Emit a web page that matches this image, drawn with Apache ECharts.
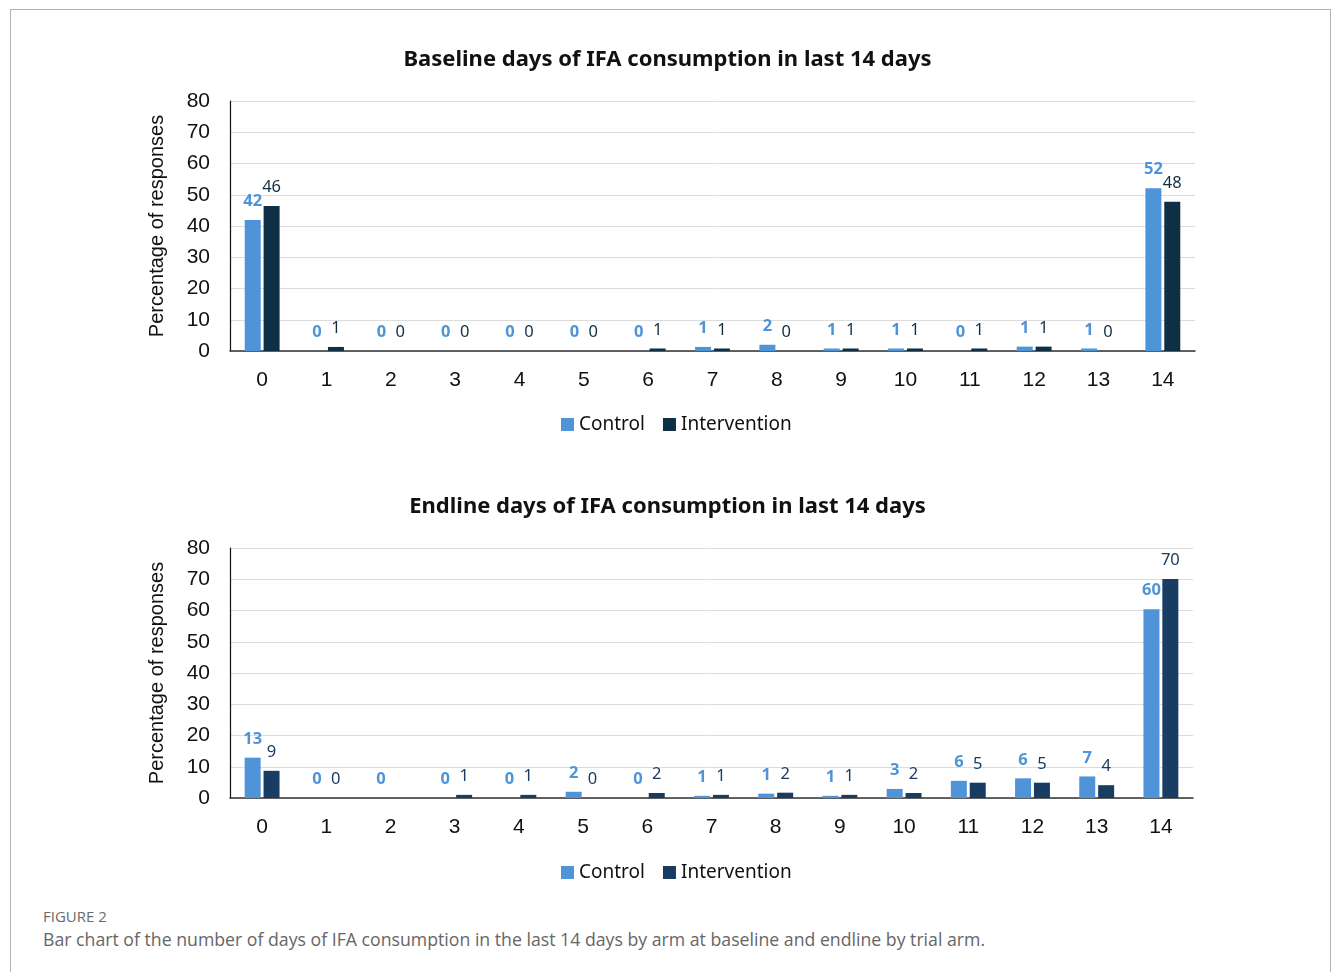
<!DOCTYPE html>
<html>
<head>
<meta charset="utf-8">
<script src="https://cdn.jsdelivr.net/npm/echarts@6/dist/echarts.min.js"></script>
<style>
  html, body { margin: 0; padding: 0; background: #fff; }
  #frame { position: absolute; left: 10px; top: 9px; width: 1321px; height: 1000px; border: 1.5px solid #b3b3b3; box-sizing: border-box; }
  #chart { position: absolute; left: 0; top: 0; width: 1335px; height: 900px; }
  #figlabel { position: absolute; left: 43px; top: 906px; font-family: "Open Sans", sans-serif; font-size: 15px; color: #6b6b6b; }
  #caption { position: absolute; left: 43px; top: 927px; font-family: "Open Sans", sans-serif; font-size: 17.7px; color: #666; }
</style>
</head>
<body>
<div id="frame"></div>
<div id="chart"></div>
<div id="figlabel">FIGURE 2</div>
<div id="caption">Bar chart of the number of days of IFA consumption in the last 14 days by arm at baseline and endline by trial arm.</div>
<script>
const categories = ['0','1','2','3','4','5','6','7','8','9','10','11','12','13','14'];
const yTicks = [0, 10, 20, 30, 40, 50, 60, 70, 80];
const seriesNames = ['Control', 'Intervention'];
const titleBaseline = 'Baseline days of IFA consumption in last 14 days';
const titleEndline = 'Endline days of IFA consumption in last 14 days';
const yAxisName = 'Percentage of responses';

const baselineControl      = [41.9, 0, 0, 0, 0, 0, 0, 1.3, 2.0, 0.8, 0.8, 0, 1.4, 0.8, 52.1];
const baselineIntervention = [46.4, 1.3, 0, 0, 0, 0, 0.8, 0.8, 0, 0.8, 0.8, 0.8, 1.4, 0, 47.8];
const endlineControl       = [12.9, 0, 0, 0, 0, 2.0, 0, 0.7, 1.4, 0.7, 2.9, 5.5, 6.3, 6.9, 60.4];
const endlineIntervention  = [8.7, 0, null, 1.0, 1.0, 0, 1.6, 1.0, 1.7, 1.0, 1.6, 4.9, 4.9, 4.1, 70.1];

const cControl = '#4f94d8';
const cIntTop = '#0f2f45';
const cIntBot = '#183c62';
const fontAx = '"Liberation Sans", Arial, sans-serif';
const fontLbl = '"Noto Sans", "Open Sans", sans-serif';

function yAxisFor(gi) {
  return {
    type: 'value', gridIndex: gi, min: yTicks[0], max: yTicks[yTicks.length - 1], interval: yTicks[1] - yTicks[0],
    name: yAxisName, nameLocation: 'middle', nameGap: 63, nameRotate: 90,
    nameTextStyle: { fontFamily: fontAx, fontSize: 20, color: '#111' },
    axisLine: { show: true, lineStyle: { color: '#111', width: 1.2 } },
    axisTick: { show: false },
    axisLabel: { fontFamily: fontAx, fontSize: 21, color: '#111', margin: 20 },
    splitLine: { show: true, lineStyle: { color: '#dcdcdc', width: 1 } }
  };
}
function xAxisFor(gi) {
  return {
    type: 'category', gridIndex: gi, data: categories,
    axisLine: { show: true, lineStyle: { color: '#333', width: 1.5 } },
    axisTick: { show: false },
    axisLabel: { fontFamily: fontAx, fontSize: 21, color: '#111', margin: 19 }
  };
}
function barSeries(name, data, gi, color, bold) {
  return {
    type: 'bar', name: name, xAxisIndex: gi, yAxisIndex: gi, data: data,
    barWidth: 16, barGap: '18%',
    itemStyle: { color: color },
    label: {
      show: true, position: 'top', distance: 10,
      fontFamily: fontLbl, fontSize: 16.5, fontWeight: bold ? 'bold' : 'normal',
      color: bold ? cControl : (gi === 0 ? cIntTop : cIntBot),
      formatter: p => (p.value === null || p.value === undefined) ? '' : String(Math.round(p.value))
    },
    emphasis: { disabled: true }
  };
}

const chart = echarts.init(document.getElementById('chart'), null, { renderer: 'canvas' });
chart.setOption({
  animation: false,
  title: [
    { text: titleBaseline, left: 'center', top: 44, textStyle: { fontFamily: fontLbl, fontSize: 22, fontWeight: 'bold', color: '#111' } },
    { text: titleEndline, left: 'center', top: 491, textStyle: { fontFamily: fontLbl, fontSize: 22, fontWeight: 'bold', color: '#111' } }
  ],
  legend: [
    { top: 410, left: 556, itemWidth: 13, itemHeight: 13, itemGap: 18, icon: 'rect',
      textStyle: { fontFamily: fontLbl, fontSize: 19, color: '#111' },
      data: [{ name: seriesNames[0], itemStyle: { color: cControl } }, { name: seriesNames[1], itemStyle: { color: cIntTop } }] },
    { top: 858, left: 556, itemWidth: 13, itemHeight: 13, itemGap: 18, icon: 'rect',
      textStyle: { fontFamily: fontLbl, fontSize: 19, color: '#111' },
      data: [{ name: seriesNames[0], itemStyle: { color: cControl } }, { name: seriesNames[1], itemStyle: { color: cIntBot } }] }
  ],
  grid: [
    { left: 230, right: 140, top: 101, height: 250 },
    { left: 230, right: 142, top: 548, height: 250 }
  ],
  xAxis: [xAxisFor(0), xAxisFor(1)],
  yAxis: [yAxisFor(0), yAxisFor(1)],
  series: [
    barSeries(seriesNames[0], baselineControl, 0, cControl, true),
    barSeries(seriesNames[1], baselineIntervention, 0, cIntTop, false),
    barSeries(seriesNames[0], endlineControl, 1, cControl, true),
    barSeries(seriesNames[1], endlineIntervention, 1, cIntBot, false)
  ]
});
</script>
</body>
</html>
